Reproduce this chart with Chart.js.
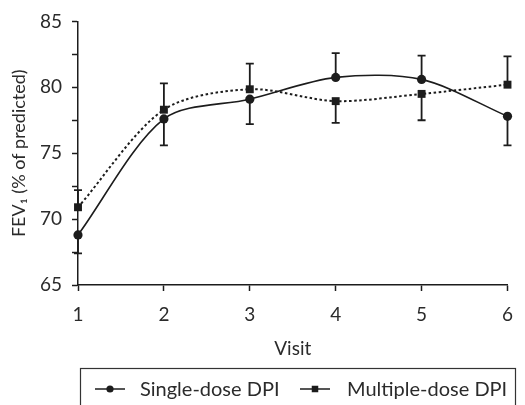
<!DOCTYPE html>
<html>
<head>
<meta charset="utf-8">
<script src="https://cdn.jsdelivr.net/npm/chart.js@4/dist/chart.umd.min.js"></script>
<style>
  html, body { margin: 0; padding: 0; background: #fff; }
</style>
</head>
<body>
<canvas id="fev" width="525" height="405"></canvas>
<script>
const visits = ['1', '2', '3', '4', '5', '6']
const singleDose = [68.8, 77.6, 79.1, 80.75, 80.6, 77.8]
const singleDoseErr = [67.4, 75.6, 77.2, 82.6, 82.4, 75.6]
const multipleDose = [70.9, 78.3, 79.85, 78.95, 79.5, 80.2]
const multipleDoseErr = [72.2, 80.3, 81.8, 77.3, 77.5, 82.35]
const yLabelled = [65, 70, 75, 80, 85]

const ink = '#1c1c1c'
const textInk = '#2b2b2b'
const family = 'Lato'

// one-sided error bars, from the mean out to the value in errorTo
const errorBars = {
  id: 'errorBars',
  beforeDatasetsDraw(chart) {
    const { ctx } = chart
    const yScale = chart.scales.y
    chart.data.datasets.forEach((ds, i) => {
      const meta = chart.getDatasetMeta(i)
      ctx.save()
      ctx.strokeStyle = ink
      ctx.lineWidth = 1.8
      meta.data.forEach((pt, j) => {
        const yEnd = yScale.getPixelForValue(ds.errorTo[j])
        ctx.beginPath()
        ctx.moveTo(pt.x, pt.y)
        ctx.lineTo(pt.x, yEnd)
        ctx.moveTo(pt.x - 4, yEnd)
        ctx.lineTo(pt.x + 4, yEnd)
        ctx.stroke()
      })
      ctx.restore()
    })
  }
}

// boxed legend under the x axis, marker drawn on a short line
const boxLegend = {
  id: 'boxLegend',
  afterDraw(chart) {
    const { ctx } = chart
    const slots = [{ line: 95, text: 140 }, { line: 300, text: 347 }]
    const cy = 389
    ctx.save()
    ctx.strokeStyle = '#333'
    ctx.lineWidth = 1.2
    ctx.strokeRect(80.5, 368.5, 435, 60)
    ctx.font = '20px ' + family
    ctx.textBaseline = 'middle'
    ctx.textAlign = 'left'
    chart.data.datasets.forEach((ds, i) => {
      const s = slots[i]
      ctx.strokeStyle = ink
      ctx.lineWidth = 1.5
      ctx.beginPath()
      ctx.moveTo(s.line, cy)
      ctx.lineTo(s.line + 30, cy)
      ctx.stroke()
      ctx.fillStyle = ink
      Chart.helpers.drawPoint(ctx, {
        pointStyle: ds.pointStyle,
        radius: ds.pointStyle === 'circle' ? 3.6 : 4.6,
        borderWidth: 0
      }, s.line + 15, cy)
      ctx.fillStyle = textInk
      ctx.fillText(ds.label, s.text, cy + 1)
    })
    ctx.restore()
  }
}

new Chart(document.getElementById('fev'), {
  type: 'line',
  data: {
    labels: visits,
    datasets: [
      {
        label: 'Single-dose DPI',
        data: singleDose,
        errorTo: singleDoseErr,
        borderColor: ink,
        backgroundColor: ink,
        borderWidth: 1.6,
        tension: 0.3,
        pointStyle: 'circle',
        pointRadius: 4.6,
        pointBorderWidth: 0,
        clip: false
      },
      {
        label: 'Multiple-dose DPI',
        data: multipleDose,
        errorTo: multipleDoseErr,
        borderColor: ink,
        backgroundColor: ink,
        borderWidth: 2,
        borderDash: [2.5, 2.5],
        tension: 0.3,
        pointStyle: 'rect',
        pointRadius: 5.6,
        pointBorderWidth: 0,
        clip: false
      }
    ]
  },
  options: {
    responsive: false,
    animation: false,
    devicePixelRatio: 1,
    layout: { padding: { top: 21, right: 8, left: 0, bottom: 40 } },
    plugins: {
      legend: { display: false },
      tooltip: { enabled: false }
    },
    scales: {
      x: {
        type: 'category',
        offset: false,
        afterFit: s => { s.height = 80 },
        border: { color: ink, width: 1.5 },
        grid: { drawOnChartArea: false, tickLength: 6, tickColor: ink, tickWidth: 1.5 },
        ticks: { color: textInk, padding: 12, font: { family, size: 19 } },
        title: {
          display: true,
          text: 'Visit',
          color: textInk,
          font: { family, size: 19 },
          padding: { top: 0, bottom: 5 }
        }
      },
      y: {
        min: 65,
        max: 85,
        afterFit: s => { s.width = 78 },
        border: { color: ink, width: 1.5 },
        grid: { drawOnChartArea: false, tickLength: 6, tickColor: ink, tickWidth: 1.5 },
        ticks: {
          stepSize: 2.5,
          color: textInk,
          padding: 10,
          font: { family, size: 19 },
          callback: v => (yLabelled.includes(v) ? v : '')
        },
        title: {
          display: true,
          text: 'FEV\u2081 (% of predicted)',
          color: textInk,
          font: { family, size: 18 },
          padding: { top: 8, bottom: 0 }
        }
      }
    }
  },
  plugins: [errorBars, boxLegend]
})
</script>
</body>
</html>
